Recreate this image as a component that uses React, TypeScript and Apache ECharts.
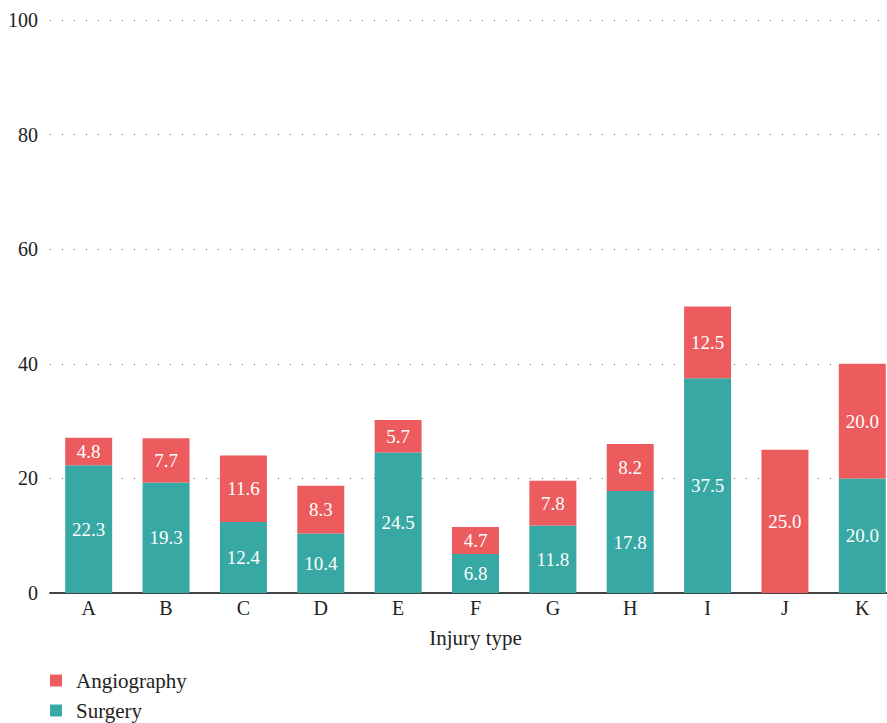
import React, { useEffect, useRef } from "react";
import * as echarts from "echarts";

const categories = ["A", "B", "C", "D", "E", "F", "G", "H", "I", "J", "K"];
const surgery: (number | string)[] = [22.3, 19.3, 12.4, 10.4, 24.5, 6.8, 11.8, 17.8, 37.5, "-", 20.0];
const angiography = [4.8, 7.7, 11.6, 8.3, 5.7, 4.7, 7.8, 8.2, 12.5, 25.0, 20.0];
const yTicks = { min: 0, max: 100, interval: 20 };

const FONT = "'Liberation Serif', 'DejaVu Serif', serif";

export default function App() {
  const ref = useRef<HTMLDivElement>(null);
  useEffect(() => {
    if (!ref.current) return;
    const chart = echarts.init(ref.current, undefined, { renderer: "svg" });
    const label = {
      show: true,
      position: "inside" as const,
      color: "#ffffff",
      fontFamily: FONT,
      fontSize: 19,
      formatter: (p: any) => (typeof p.value === "number" ? p.value.toFixed(1) : ""),
    };
    chart.setOption({
      animation: false,
      textStyle: { fontFamily: FONT },
      grid: { left: 50, right: 0, top: 20, height: 573, containLabel: false, outerBoundsMode: "none" },
      legend: {
        orient: "vertical",
        left: 50,
        top: 670,
        height: 80,
        padding: 0,
        itemWidth: 12,
        itemHeight: 12,
        itemGap: 9,
        icon: "rect",
        textStyle: { fontFamily: FONT, fontSize: 21, color: "#222", lineHeight: 20, padding: [0, 0, 0, 9] },
        data: ["Angiography", "Surgery"],
      },
      xAxis: {
        type: "category",
        data: categories,
        name: "Injury type",
        nameLocation: "middle",
        nameGap: 34,
        nameTextStyle: { fontFamily: FONT, fontSize: 21, color: "#222" },
        axisLine: { show: true, lineStyle: { color: "#444", width: 2 } },
        axisTick: { show: false },
        axisLabel: { fontFamily: FONT, fontSize: 20, color: "#222", margin: 5 },
      },
      yAxis: {
        type: "value",
        min: yTicks.min,
        max: yTicks.max,
        interval: yTicks.interval,
        axisLine: { show: false },
        axisTick: { show: false },
        axisLabel: { fontFamily: FONT, fontSize: 20, color: "#222", margin: 12 },
        splitLine: { show: true, lineStyle: { color: "#666", width: 1, type: [1, 11] } },
      },
      series: [
        {
          name: "Surgery",
          type: "bar",
          stack: "total",
          data: surgery,
          barWidth: 47,
          itemStyle: { color: "#37A8A4" },
          label,
        },
        {
          name: "Angiography",
          type: "bar",
          stack: "total",
          data: angiography,
          barWidth: 47,
          itemStyle: { color: "#EC5C5E" },
          label,
        },
      ],
    });
    return () => chart.dispose();
  }, []);
  return (
    <div style={{ width: 887, height: 723, position: "absolute", left: 0, top: 0, overflow: "hidden" }}>
      <div ref={ref} style={{ width: 901, height: 723 }} />
    </div>
  );
}
